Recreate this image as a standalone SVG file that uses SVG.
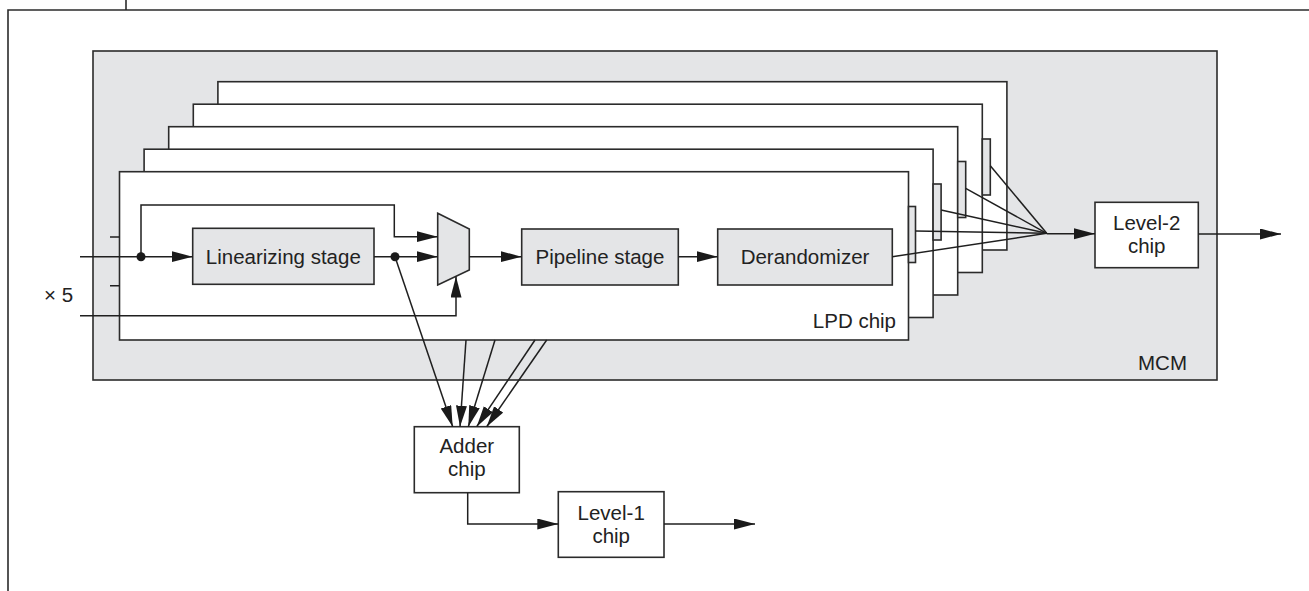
<svg xmlns="http://www.w3.org/2000/svg" width="1309" height="591" viewBox="0 0 1309 591">
  <style>
    .frame { fill: none; stroke: #2b2b2b; stroke-width: 1.6; }
    .box { stroke: #2b2b2b; stroke-width: 1.6; }
    .gray { fill: #e4e5e7; }
    .white { fill: #ffffff; }
    .wire { fill: none; stroke: #1f1f1f; stroke-width: 1.5; }
    .arrow { fill: none; stroke: #1f1f1f; stroke-width: 1.5; marker-end: url(#head); }
    .lbl { font-family: "Liberation Sans", Arial, sans-serif; font-size: 20.5px; fill: #222; }
    .mid { text-anchor: middle; }
  </style>
  <defs>
    <marker id="head" markerUnits="userSpaceOnUse" markerWidth="22" markerHeight="12" refX="21" refY="5.5" orient="auto">
      <path d="M0,0 L21,5.5 L0,11 z" fill="#1a1a1a"/>
    </marker>
  </defs>

  <rect width="1309" height="591" fill="#ffffff"/>

  <!-- page frame -->
  <g id="page-frame">
    <path class="frame" d="M8,591 V10 H1309"/>
    <path class="frame" d="M126,0 V10"/>
  </g>

  <!-- multi-chip module -->
  <g id="mcm">
    <rect class="box gray" x="93" y="51" width="1124" height="329"/>
    <text class="lbl" x="1187" y="370" text-anchor="end">MCM</text>
  </g>

  <!-- stack of five LPD chips, back to front -->
  <g id="lpd-chip-5">
    <rect class="box white" x="217.9" y="81.7" width="789" height="168.3"/>
  </g>
  <g id="lpd-chip-4">
    <rect class="box white" x="193.3" y="104.2" width="789" height="168.3"/>
    <rect class="box gray" x="982.3" y="139" width="8" height="56"/>
  </g>
  <g id="lpd-chip-3">
    <rect class="box white" x="168.7" y="126.7" width="789" height="168.3"/>
    <rect class="box gray" x="957.7" y="161.5" width="8" height="56"/>
  </g>
  <g id="lpd-chip-2">
    <rect class="box white" x="144.1" y="149.2" width="789" height="168.3"/>
    <rect class="box gray" x="933.1" y="184" width="8" height="56"/>
  </g>
  <g id="lpd-chip-1">
    <rect class="box white" x="119.5" y="171.7" width="789" height="168.3"/>
    <rect class="box gray" x="908.5" y="206.5" width="7" height="56"/>
    <text class="lbl" x="896" y="328" text-anchor="end">LPD chip</text>
  </g>

  <!-- blocks inside the front chip -->
  <g id="linearizing-stage">
    <rect class="box gray" x="192.7" y="228.3" width="181.3" height="56"/>
    <text class="lbl mid" x="283.3" y="263.5">Linearizing stage</text>
  </g>
  <g id="mux">
    <polygon class="box gray" points="437.7,213.3 469.3,229 469.3,270 437.7,285"/>
  </g>
  <g id="pipeline-stage">
    <rect class="box gray" x="521.7" y="229" width="156.6" height="56"/>
    <text class="lbl mid" x="600" y="263.5">Pipeline stage</text>
  </g>
  <g id="derandomizer">
    <rect class="box gray" x="717.7" y="229" width="174.6" height="56"/>
    <text class="lbl mid" x="805" y="263.5">Derandomizer</text>
  </g>

  <!-- chips outside the stack -->
  <g id="level-2-chip">
    <rect class="box white" x="1095" y="202.3" width="103.3" height="65.4"/>
    <text class="lbl mid" x="1146.7" y="229.5">Level-2</text>
    <text class="lbl mid" x="1146.7" y="252.5">chip</text>
  </g>
  <g id="adder-chip">
    <rect class="box white" x="414.3" y="426.7" width="105" height="66"/>
    <text class="lbl mid" x="466.8" y="453">Adder</text>
    <text class="lbl mid" x="466.8" y="476">chip</text>
  </g>
  <g id="level-1-chip">
    <rect class="box white" x="558.3" y="491.7" width="105.7" height="65.6"/>
    <text class="lbl mid" x="611.2" y="519.5">Level-1</text>
    <text class="lbl mid" x="611.2" y="543">chip</text>
  </g>

  <text class="lbl" x="44" y="302.3">× 5</text>

  <!-- connectors -->
  <g id="connectors">
    <!-- pin ticks on the front chip edge -->
    <path class="wire" d="M110,237 H119.5 M110,285.7 H119.5"/>
    <!-- signal input and bypass into the multiplexer -->
    <path class="arrow" d="M80,256.7 H192.7"/>
    <path class="arrow" d="M141,256.7 V205 H394.3 V236.7 H437.7"/>
    <path class="arrow" d="M374,256.7 H437.7"/>
    <path class="arrow" d="M80,315.7 H456 V276.5"/>
    <circle cx="141" cy="256.7" r="4.5" fill="#1a1a1a"/>
    <circle cx="395" cy="256.7" r="4.5" fill="#1a1a1a"/>
    <!-- main pipeline path -->
    <path class="arrow" d="M469.3,256.7 H521.7"/>
    <path class="arrow" d="M678.3,256.7 H717.7"/>
    <!-- chip outputs merging into the level-2 chip -->
    <path class="wire" d="M892.3,256.7 L1046.7,233.3"/>
    <path class="wire" d="M915.5,231 L1046.7,233.3"/>
    <path class="wire" d="M941.1,210 L1046.7,233.3"/>
    <path class="wire" d="M965.7,188.3 L1046.7,233.3"/>
    <path class="wire" d="M990.3,165.7 L1046.7,233.3"/>
    <path class="arrow" d="M1046.7,233.7 H1095"/>
    <path class="arrow" d="M1198.3,234 H1281"/>
    <!-- chip outputs into the adder -->
    <path class="arrow" d="M395,256.7 L452.7,426.7"/>
    <path class="arrow" d="M466,340 L460,426.7"/>
    <path class="arrow" d="M495,340 L468.3,426.7"/>
    <path class="arrow" d="M535,340 L476.7,426.7"/>
    <path class="arrow" d="M546.7,340 L486.7,426.7"/>
    <!-- adder to level-1 chip -->
    <path class="arrow" d="M467.7,492.7 V524 H558.3"/>
    <path class="arrow" d="M664,524 H755"/>
  </g>
</svg>
